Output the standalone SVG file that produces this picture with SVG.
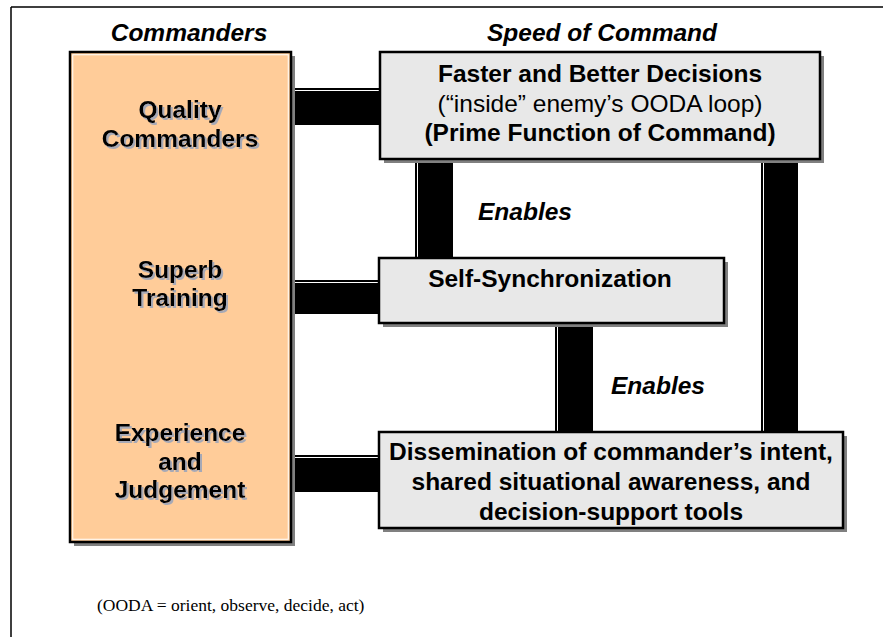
<svg xmlns="http://www.w3.org/2000/svg" width="883" height="638" viewBox="0 0 883 638">
<defs>
<filter id="ts" x="-10%" y="-20%" width="120%" height="150%">
<feOffset in="SourceAlpha" dx="2" dy="2" result="o"/>
<feFlood flood-color="#a6a9b6"/>
<feComposite in2="o" operator="in" result="s"/>
<feMerge><feMergeNode in="s"/><feMergeNode in="SourceGraphic"/></feMerge>
</filter>
</defs>
<style>
.b{font-family:"Liberation Sans",Arial,sans-serif;font-weight:bold;font-size:24.5px;fill:#000;text-anchor:middle}
.r{font-family:"Liberation Sans",Arial,sans-serif;font-size:24.5px;fill:#000;text-anchor:middle}
.h{font-family:"Liberation Sans",Arial,sans-serif;font-weight:bold;font-style:italic;font-size:24.5px;fill:#000;text-anchor:middle}
.box{stroke:#000;stroke-width:2.5}
.shadow{fill:#808080}
.bar{fill:#000}
.hl{stroke:#fff;stroke-width:1}
.note{font-family:"Liberation Serif","Times New Roman",serif;font-size:17.5px;fill:#000}
</style>
<g id="frame">
<path d="M11 7H883M11 7V637" fill="none" stroke="#000" stroke-width="1.5"/>
</g>
<g id="labels">
<text class="h" x="189" y="41">Commanders</text>
<text class="h" x="602" y="41">Speed of Command</text>
</g>
<g id="connectors">
<rect class="bar" x="291" y="88" width="90" height="37"/>
<line class="hl" x1="291" y1="90.5" x2="381" y2="90.5"/>
<rect class="bar" x="291" y="280" width="90" height="34"/>
<line class="hl" x1="291" y1="282.5" x2="381" y2="282.5"/>
<rect class="bar" x="291" y="455" width="90" height="37"/>
<line class="hl" x1="291" y1="457.5" x2="381" y2="457.5"/>
<rect class="bar" x="415" y="159" width="38" height="100"/>
<line class="hl" x1="417.5" y1="159" x2="417.5" y2="259"/>
<rect class="bar" x="555" y="323" width="38" height="110"/>
<line class="hl" x1="557.5" y1="323" x2="557.5" y2="433"/>
<rect class="bar" x="761" y="159" width="37" height="274"/>
<line class="hl" x1="763.5" y1="159" x2="763.5" y2="433"/>
<text class="h" x="525" y="220">Enables</text>
<text class="h" x="658" y="394">Enables</text>
</g>
<g id="commanders">
<rect class="shadow" x="74" y="56" width="221" height="490"/>
<rect class="box" x="70" y="52" width="221" height="490" fill="#FFCC99"/>
<rect x="72.75" y="54.75" width="215.5" height="484.5" fill="none" stroke="#fff" stroke-width="1"/>
<g filter="url(#ts)">
<text class="b" x="180" y="118">Quality</text>
<text class="b" x="180" y="147">Commanders</text>
<text class="b" x="180" y="278">Superb</text>
<text class="b" x="180" y="306">Training</text>
<text class="b" x="180" y="441">Experience</text>
<text class="b" x="180" y="470">and</text>
<text class="b" x="180" y="498">Judgement</text>
</g>
</g>
<g id="decisions">
<rect class="shadow" x="384" y="56" width="440" height="107"/>
<rect class="box" x="380" y="52" width="440" height="107" fill="#E8E8E8"/>
<text class="b" x="600" y="82">Faster and Better Decisions</text>
<text class="r" x="600" y="112">(“inside” enemy’s OODA loop)</text>
<text class="b" x="600" y="141">(Prime Function of Command)</text>
</g>
<g id="selfsync">
<rect class="shadow" x="383" y="262" width="345" height="65"/>
<rect class="box" x="379" y="258" width="345" height="65" fill="#E8E8E8"/>
<text class="b" x="550" y="287">Self-Synchronization</text>
</g>
<g id="dissemination">
<rect class="shadow" x="383" y="436" width="464" height="96"/>
<rect class="box" x="379" y="432" width="464" height="96" fill="#E8E8E8"/>
<text class="b" x="611" y="460">Dissemination of commander’s intent,</text>
<text class="b" x="611" y="490">shared situational awareness, and</text>
<text class="b" x="611" y="520">decision-support tools</text>
</g>
<g id="note">
<text class="note" x="97" y="611">(OODA = orient, observe, decide, act)</text>
</g>
</svg>
